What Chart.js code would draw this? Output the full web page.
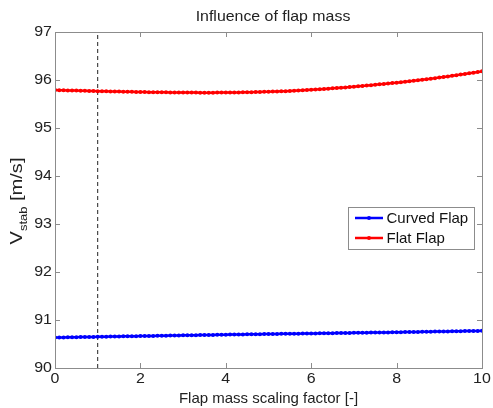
<!DOCTYPE html>
<html>
<head>
<meta charset="utf-8">
<script src="https://cdn.jsdelivr.net/npm/chart.js@4.4.1/dist/chart.umd.min.js"></script>
<style>
  html, body { margin: 0; padding: 0; background: #fff; }
  #wrap { width: 493px; height: 408px; }
</style>
</head>
<body>
<div id="wrap"><canvas id="chart" width="493" height="408"></canvas></div>
<script>
/* ----------------------------------------------------------
   DATA
---------------------------------------------------------- */
const xs = [
  0.0, 0.1, 0.2, 0.3, 0.4, 0.5, 0.6, 0.7, 0.8, 0.9,
  1.0, 1.1, 1.2, 1.3, 1.4, 1.5, 1.6, 1.7, 1.8, 1.9,
  2.0, 2.1, 2.2, 2.3, 2.4, 2.5, 2.6, 2.7, 2.8, 2.9,
  3.0, 3.1, 3.2, 3.3, 3.4, 3.5, 3.6, 3.7, 3.8, 3.9,
  4.0, 4.1, 4.2, 4.3, 4.4, 4.5, 4.6, 4.7, 4.8, 4.9,
  5.0, 5.1, 5.2, 5.3, 5.4, 5.5, 5.6, 5.7, 5.8, 5.9,
  6.0, 6.1, 6.2, 6.3, 6.4, 6.5, 6.6, 6.7, 6.8, 6.9,
  7.0, 7.1, 7.2, 7.3, 7.4, 7.5, 7.6, 7.7, 7.8, 7.9,
  8.0, 8.1, 8.2, 8.3, 8.4, 8.5, 8.6, 8.7, 8.8, 8.9,
  9.0, 9.1, 9.2, 9.3, 9.4, 9.5, 9.6, 9.7, 9.8, 9.9,
  10.0
];

const curvedFlap = [
  90.635, 90.636, 90.638, 90.639, 90.641, 90.642, 90.644, 90.645, 90.647, 90.648,
  90.650, 90.651, 90.653, 90.654, 90.656, 90.657, 90.659, 90.660, 90.662, 90.663,
  90.665, 90.666, 90.668, 90.669, 90.671, 90.672, 90.674, 90.675, 90.677, 90.678,
  90.680, 90.681, 90.683, 90.684, 90.686, 90.687, 90.689, 90.690, 90.692, 90.693,
  90.695, 90.696, 90.697, 90.699, 90.700, 90.701, 90.702, 90.704, 90.705, 90.706,
  90.707, 90.708, 90.710, 90.711, 90.712, 90.713, 90.715, 90.716, 90.717, 90.718,
  90.720, 90.721, 90.722, 90.724, 90.725, 90.726, 90.727, 90.729, 90.730, 90.731,
  90.732, 90.733, 90.735, 90.736, 90.737, 90.738, 90.740, 90.741, 90.742, 90.743,
  90.745, 90.746, 90.748, 90.749, 90.751, 90.752, 90.754, 90.755, 90.757, 90.758,
  90.760, 90.761, 90.763, 90.764, 90.766, 90.767, 90.769, 90.770, 90.772, 90.773,
  90.775
];

const flatFlap = [
  95.790, 95.788, 95.786, 95.783, 95.781, 95.779, 95.777, 95.775, 95.772, 95.770,
  95.768, 95.766, 95.764, 95.762, 95.761, 95.759, 95.757, 95.755, 95.753, 95.752,
  95.750, 95.749, 95.747, 95.746, 95.745, 95.744, 95.743, 95.742, 95.741, 95.740,
  95.739, 95.738, 95.737, 95.737, 95.736, 95.736, 95.736, 95.736, 95.737, 95.737,
  95.738, 95.739, 95.740, 95.742, 95.743, 95.745, 95.747, 95.749, 95.751, 95.753,
  95.755, 95.758, 95.761, 95.764, 95.768, 95.772, 95.776, 95.780, 95.785, 95.790,
  95.795, 95.801, 95.807, 95.813, 95.819, 95.826, 95.832, 95.839, 95.846, 95.853,
  95.860, 95.868, 95.876, 95.884, 95.892, 95.901, 95.909, 95.918, 95.927, 95.936,
  95.945, 95.955, 95.965, 95.975, 95.985, 95.996, 96.006, 96.017, 96.028, 96.039,
  96.050, 96.062, 96.074, 96.087, 96.100, 96.113, 96.126, 96.139, 96.152, 96.166,
  96.180
];

const refX = [1, 1];          // dashed reference line (nominal mass)
const refY = [90, 97];

const xTicks = [0, 2, 4, 6, 8, 10];
const yTicks = [90, 91, 92, 93, 94, 95, 96, 97];

const seriesLabels = ["Curved Flap", "Flat Flap"];

/* ----------------------------------------------------------
   HELPERS
---------------------------------------------------------- */
const FONT = "'Liberation Sans', Arial, Helvetica, sans-serif";
const AXIS_GREY = "#8c8c8c";

function toPoints(xArr, yArr) {
  return xArr.map((x, i) => ({ x: x, y: yArr[i] }));
}

// text with a slight horizontal stretch (reference glyphs are wide)
function wideText(ctx, txt, x, y, sx) {
  ctx.save();
  ctx.translate(x, y);
  ctx.scale(sx, 1);
  ctx.fillText(txt, 0, 0);
  ctx.restore();
}

/* ----------------------------------------------------------
   FRAME PLUGIN: box, inward ticks, titles, legend
---------------------------------------------------------- */
const framePlugin = {
  id: "frame",
  afterDraw(chart) {
    const { ctx, chartArea: a, scales } = chart;
    const sx = scales.x, sy = scales.y;
    ctx.save();

    // box
    ctx.strokeStyle = AXIS_GREY;
    ctx.lineWidth = 1;
    ctx.strokeRect(a.left + 0.5, a.top + 0.5, a.right - a.left, a.bottom - a.top);

    // inward ticks
    const tl = 5;
    ctx.beginPath();
    xTicks.forEach(v => {
      const px = Math.round(sx.getPixelForValue(v)) + 0.5;
      ctx.moveTo(px, a.bottom); ctx.lineTo(px, a.bottom - tl);
      ctx.moveTo(px, a.top); ctx.lineTo(px, a.top + tl);
    });
    yTicks.forEach(v => {
      const py = Math.round(sy.getPixelForValue(v)) + 0.5;
      ctx.moveTo(a.left, py); ctx.lineTo(a.left + tl, py);
      ctx.moveTo(a.right, py); ctx.lineTo(a.right - tl, py);
    });
    ctx.stroke();

    // tick labels
    ctx.fillStyle = "#222";
    ctx.font = "14px " + FONT;
    ctx.textAlign = "center";
    ctx.textBaseline = "top";
    xTicks.forEach(v => wideText(ctx, String(v), sx.getPixelForValue(v), a.bottom + 4, 1.14));
    ctx.textAlign = "right";
    ctx.textBaseline = "middle";
    yTicks.forEach(v => wideText(ctx, String(v), a.left - 3, sy.getPixelForValue(v), 1.14));

    // title
    ctx.textAlign = "center";
    ctx.textBaseline = "alphabetic";
    ctx.font = "15px " + FONT;
    wideText(ctx, "Influence of flap mass", 273, 21, 1.06);

    // x axis title
    ctx.font = "15px " + FONT;
    ctx.fillText("Flap mass scaling factor [-]", (a.left + a.right) / 2, 403);

    // y axis title with subscript
    ctx.save();
    ctx.translate(17, 201);
    ctx.rotate(-Math.PI / 2);
    ctx.scale(1.18, 1);
    ctx.textAlign = "left";
    ctx.textBaseline = "alphabetic";
    const bigF = "17px " + FONT, subF = "11px " + FONT;
    ctx.font = bigF; const wV = ctx.measureText("V").width;
    ctx.font = subF; const wS = ctx.measureText("stab").width;
    ctx.font = bigF; const wU = ctx.measureText(" [m/s]").width;
    const x0 = -(wV + wS + wU) / 2;
    ctx.font = bigF; ctx.fillText("V", x0, 5);
    ctx.font = subF; ctx.fillText("stab", x0 + wV, 9.5);
    ctx.font = bigF; ctx.fillText(" [m/s]", x0 + wV + wS, 5);
    ctx.restore();

    // legend
    const lx = 348, ly = 207, lw = 126, lh = 42;
    ctx.fillStyle = "#fff";
    ctx.fillRect(lx, ly, lw, lh);
    ctx.strokeStyle = AXIS_GREY;
    ctx.lineWidth = 1;
    ctx.strokeRect(lx + 0.5, ly + 0.5, lw, lh);
    const colors = ["#0000ff", "#ff0000"];
    ctx.font = "15px " + FONT;
    ctx.textAlign = "left";
    ctx.textBaseline = "middle";
    seriesLabels.forEach((lab, i) => {
      const yy = ly + 11 + i * 20;
      ctx.strokeStyle = colors[i];
      ctx.lineWidth = 2.5;
      ctx.beginPath(); ctx.moveTo(lx + 7, yy); ctx.lineTo(lx + 35, yy); ctx.stroke();
      ctx.fillStyle = colors[i];
      ctx.beginPath(); ctx.arc(lx + 21, yy, 2, 0, Math.PI * 2); ctx.fill();
      ctx.fillStyle = "#111";
      ctx.fillText(lab, lx + 38.5, yy + 1);
    });

    ctx.restore();
  }
};

/* ----------------------------------------------------------
   CHART
---------------------------------------------------------- */
new Chart(document.getElementById("chart"), {
  type: "line",
  data: {
    datasets: [
      {
        label: seriesLabels[0],
        data: toPoints(xs, curvedFlap),
        borderColor: "#0000ff",
        backgroundColor: "#0000ff",
        borderWidth: 2.5,
        pointRadius: 2,
        pointBorderWidth: 0,
        tension: 0
      },
      {
        label: seriesLabels[1],
        data: toPoints(xs, flatFlap),
        borderColor: "#ff0000",
        backgroundColor: "#ff0000",
        borderWidth: 2.5,
        pointRadius: 2,
        pointBorderWidth: 0,
        tension: 0
      },
      {
        label: "ref",
        data: toPoints(refX, refY),
        borderColor: "#222",
        borderWidth: 1,
        borderDash: [4, 3],
        pointRadius: 0
      }
    ]
  },
  options: {
    responsive: false,
    animation: false,
    events: [],
    layout: { padding: { left: 0, right: 11, top: 32, bottom: 0 } },
    plugins: {
      legend: { display: false },
      title: { display: false },
      tooltip: { enabled: false }
    },
    scales: {
      x: {
        type: "linear",
        min: 0, max: 10,
        grid: { display: false },
        border: { display: false },
        ticks: { display: false },
        afterFit: s => { s.height = 40; }
      },
      y: {
        type: "linear",
        min: 90, max: 97,
        grid: { display: false },
        border: { display: false },
        ticks: { display: false },
        afterFit: s => { s.width = 55; }
      }
    }
  },
  plugins: [framePlugin]
});
</script>
</body>
</html>
